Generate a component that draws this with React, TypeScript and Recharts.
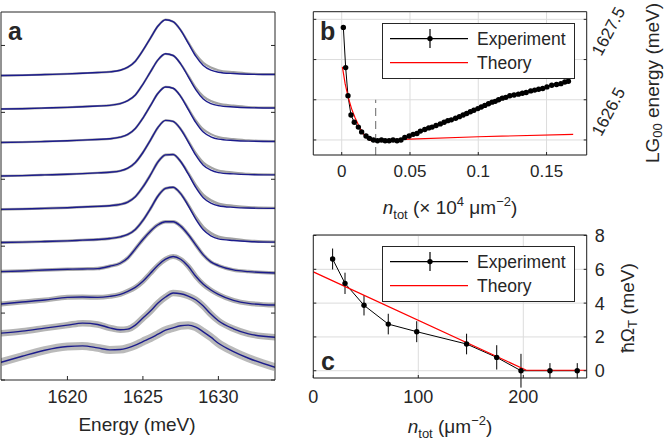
import React from "react";
import {
  ComposedChart,
  Line,
  XAxis,
  YAxis,
  CartesianGrid,
  ReferenceLine,
  ErrorBar,
  Legend,
} from "recharts";

const FONT = "'Liberation Sans', Arial, Helvetica, sans-serif";
const INK = "#262626";
const W = 667;
const H = 442;

// ---------- panel a: stacked PL spectra (fits), arbitrary units ----------
const energyGrid = [
  1615.6, 1617, 1618.5, 1620, 1621, 1622, 1622.8, 1623.5, 1624, 1624.5, 1625, 1625.5, 1626, 1626.5, 1627,
  1627.5, 1628, 1628.5, 1629, 1629.5, 1630, 1631, 1632, 1633.75,
];
const energyTicks = [1620, 1625, 1630];
const spectrumOffsets = [9.1, 8.1, 7.1, 6.1, 5.1, 4.1, 3.2, 2.2, 1.25, 0.35];

const fit1 = [0, 0.01, 0.03, 0.05, 0.07, 0.09, 0.11, 0.16, 0.25, 0.43, 0.75, 1.12, 1.48, 1.67, 1.61, 1.36, 0.97, 0.58, 0.3, 0.16, 0.1, 0.06, 0.04, 0.03];
const fit2 = [0, 0.01, 0.03, 0.05, 0.07, 0.09, 0.11, 0.16, 0.25, 0.42, 0.74, 1.11, 1.47, 1.65, 1.6, 1.35, 0.97, 0.58, 0.3, 0.16, 0.1, 0.06, 0.04, 0.03];
const fit3 = [0, 0.01, 0.03, 0.05, 0.07, 0.09, 0.11, 0.16, 0.24, 0.42, 0.73, 1.1, 1.47, 1.66, 1.62, 1.38, 0.99, 0.6, 0.31, 0.17, 0.1, 0.06, 0.04, 0.03];
const fit4 = [0, 0.01, 0.03, 0.05, 0.07, 0.09, 0.11, 0.15, 0.23, 0.4, 0.7, 1.07, 1.45, 1.66, 1.63, 1.4, 1.02, 0.62, 0.32, 0.17, 0.1, 0.06, 0.04, 0.03];
const fit5 = [0, 0.01, 0.03, 0.05, 0.07, 0.09, 0.11, 0.15, 0.22, 0.38, 0.67, 1.03, 1.42, 1.63, 1.64, 1.43, 1.06, 0.66, 0.35, 0.19, 0.11, 0.06, 0.04, 0.03];
const fit6 = [0.01, 0.02, 0.04, 0.06, 0.08, 0.1, 0.13, 0.18, 0.25, 0.4, 0.67, 1.02, 1.4, 1.63, 1.66, 1.47, 1.11, 0.71, 0.39, 0.21, 0.12, 0.07, 0.04, 0.02];
const fit7 = [0.04, 0.06, 0.09, 0.11, 0.12, 0.13, 0.2, 0.29, 0.45, 0.72, 1.0, 1.25, 1.44, 1.53, 1.53, 1.4, 1.15, 0.84, 0.54, 0.33, 0.22, 0.09, 0.04, 0.0];
const fit8 = [0.07, 0.13, 0.19, 0.27, 0.28, 0.27, 0.3, 0.36, 0.45, 0.57, 0.75, 0.99, 1.23, 1.41, 1.49, 1.41, 1.2, 0.9, 0.66, 0.49, 0.36, 0.18, 0.09, 0.04];
const fit9 = [0.15, 0.21, 0.3, 0.39, 0.45, 0.41, 0.31, 0.25, 0.27, 0.39, 0.6, 0.81, 1.05, 1.23, 1.35, 1.33, 1.26, 1.15, 0.96, 0.72, 0.52, 0.28, 0.13, 0.03];
const fit10 = [0.18, 0.36, 0.54, 0.65, 0.67, 0.61, 0.55, 0.56, 0.61, 0.69, 0.8, 0.9, 1.02, 1.14, 1.21, 1.27, 1.29, 1.23, 1.09, 0.93, 0.75, 0.5, 0.3, 0.03];
const fits = [fit1, fit2, fit3, fit4, fit5, fit6, fit7, fit8, fit9, fit10];
// measured data sits a little above the fit on the high-energy flank of the upper spectra
const dataShoulder = [0, 0, 0, 0, 0, 0, 0, 0, 0, 0, 0, 0, 0, 0, 0, 0, 0.03, 0.06, 0.08, 0.08, 0.06, 0.04, 0.02, 0.01];
const shoulderSpectra = 6;

// ---------- panel b: LG00 energy vs density ----------
const bDensity = [
  0.0012, 0.0029, 0.0046, 0.0068, 0.0092, 0.0122, 0.0146, 0.0178, 0.0203, 0.0232, 0.0262, 0.0291, 0.0318, 0.0347,
  0.0376, 0.0405, 0.0434, 0.0462, 0.0494, 0.0523, 0.0551, 0.0576, 0.0608, 0.0637, 0.0662, 0.0691, 0.0722, 0.075,
  0.0777, 0.0803, 0.0834, 0.0862, 0.0889, 0.0915, 0.0942, 0.0968, 0.0997, 0.1022, 0.1048, 0.1075, 0.1101, 0.1124,
  0.1149, 0.1176, 0.1202, 0.1231, 0.1262, 0.1294, 0.1323, 0.1351, 0.1384, 0.1413, 0.1442, 0.1472, 0.1503, 0.1538,
  0.1573, 0.1605, 0.1634, 0.166,
];
const bEnergy = [
  1627.4, 1626.9, 1626.55, 1626.31, 1626.22, 1626.16, 1626.1, 1626.05, 1626.02, 1626.0, 1625.99, 1626.0, 1625.99,
  1625.99, 1626.0, 1625.99, 1626.0, 1626.03, 1626.05, 1626.07, 1626.08, 1626.11, 1626.13, 1626.15, 1626.16, 1626.18,
  1626.2, 1626.22, 1626.24, 1626.25, 1626.27, 1626.29, 1626.31, 1626.33, 1626.35, 1626.37, 1626.39, 1626.41, 1626.43,
  1626.45, 1626.47, 1626.48, 1626.5, 1626.52, 1626.53, 1626.55, 1626.56, 1626.57, 1626.58, 1626.59, 1626.61, 1626.62,
  1626.63, 1626.64, 1626.66, 1626.68, 1626.69, 1626.7, 1626.72, 1626.73,
];
const bTheoryDensity = [0.0005, 0.0025, 0.0048, 0.0072, 0.0097, 0.0122, 0.0146, 0.017, 0.0195, 0.0215, 0.05, 0.1, 0.1695];
const bTheoryEnergy = [1626.91, 1626.7, 1626.53, 1626.39, 1626.28, 1626.19, 1626.11, 1626.05, 1626.01, 1625.995, 1626.01, 1626.04, 1626.07];
const bDensityTicks = [0, 0.05, 0.1, 0.15];
const bEnergyTicks = [1626, 1626.5, 1627, 1627.5];
const bEnergyLabels = [1626.5, 1627.5];
const condensationDensity = 0.0249;

// ---------- panel c: gap vs density ----------
const cDensity = [18.4, 30.2, 48.3, 71.4, 98.5, 146, 174.7, 197.8, 225.4, 251.4];
const cGap = [6.61, 5.17, 3.87, 2.76, 2.31, 1.58, 0.79, 0.0, 0.0, 0.0];
const cGapErr = [0.62, 0.63, 0.6, 0.61, 0.62, 0.61, 0.72, 1.0, 0.45, 0.45];
const cTheoryDensity = [0, 203, 260.4];
const cTheoryGap = [5.85, 0.03, 0.03];
const cDensityTicks = [0, 100, 200];
const cGapTicks = [0, 2, 4, 6, 8];

// ---------- layout ----------
// plot frames in page pixels; axes are 1px thick boxes so the margins are trimmed by 1
type Box = { left: number; top: number; right: number; bottom: number };
const boxA: Box = { left: 1, top: 12, right: 275, bottom: 380 };
const boxB: Box = { left: 313.3, top: 11.7, right: 586.7, bottom: 155 };
const boxC: Box = { left: 313.3, top: 235, right: 586.7, bottom: 378 };
const marginOf = (b: Box) => ({ left: b.left - 1, top: b.top - 1, right: W - b.right - 1, bottom: H - b.bottom - 1 });

const noiseWidths = [2.2, 2.2, 2.2, 2.4, 2.6, 2.8, 3.5, 5, 6.5, 8];
const noiseOpacity = [0.8, 0.8, 0.8, 0.8, 0.8, 0.8, 0.75, 0.7, 0.65, 0.6];

const fitRows = fits.map((fit, i) => energyGrid.map((e, j) => ({ e, y: spectrumOffsets[i] + fit[j] })));
const dataRows = fits.map((fit, i) =>
  energyGrid.map((e, j) => ({ e, y: spectrumOffsets[i] + fit[j] + (i < shoulderSpectra ? dataShoulder[j] : 0) }))
);
const bRows = bDensity.map((n, i) => ({ n, E: bEnergy[i] }));
const bTheoryRows = bTheoryDensity.map((n, i) => ({ n, E: bTheoryEnergy[i] }));
const cRows = cDensity.map((n, i) => ({ n, w: cGap[i], err: cGapErr[i] }));
const cTheoryRows = cTheoryDensity.map((n, i) => ({ n, w: cTheoryGap[i] }));

const noTick = () => <g />;
const axisLine = { stroke: INK, strokeWidth: 1 };
const tickLine = { stroke: INK, strokeWidth: 1 };
const tickText = (size: number) => ({ fontSize: size, fill: INK, fontFamily: FONT });

function EnergyTick(props: any) {
  const { x, y, payload } = props;
  if (!bEnergyLabels.includes(payload.value)) return <g />;
  return (
    <text
      transform={`translate(${x + 22},${y + 12}) rotate(-62)`}
      textAnchor="middle"
      dominantBaseline="central"
      fontSize={17}
      fill={INK}
      fontFamily={FONT}
    >
      {payload.value}
    </text>
  );
}

function LegendBox(props: any) {
  const items = (props.payload ?? []) as Array<{ value: string; color: string }>;
  return (
    <svg width={193} height={56} style={{ display: "block" }}>
      <rect x={0.5} y={0.5} width={192} height={55} fill="#fff" stroke={INK} />
      {items.map((it, i) => {
        const cy = 15.6 + i * 24;
        return (
          <g key={it.value}>
            <line x1={8} x2={86} y1={cy} y2={cy} stroke={it.color} strokeWidth={1.2} />
            {it.value === "Experiment" && (
              <>
                <line x1={48} x2={48} y1={cy - 9.5} y2={cy + 9.5} stroke={it.color} strokeWidth={1.2} />
                <circle cx={48} cy={cy} r={2.7} fill={it.color} />
              </>
            )}
            <text x={95} y={cy} dominantBaseline="central" fontSize={17.5} fontFamily={FONT} fill={INK}>
              {it.value}
            </text>
          </g>
        );
      })}
    </svg>
  );
}

function PanelA() {
  const dom: [number, number] = [1615.6, 1633.75];
  return (
    <ComposedChart width={W} height={H} margin={marginOf(boxA)}>
      <XAxis xAxisId="x" dataKey="e" type="number" domain={dom} ticks={energyTicks} allowDataOverflow height={1}
        tickSize={-4} tickMargin={14} tick={tickText(18)} axisLine={axisLine} tickLine={tickLine} />
      <XAxis xAxisId="xt" orientation="top" type="number" domain={dom} ticks={energyTicks} allowDataOverflow height={1}
        tickSize={-4} tick={noTick} axisLine={axisLine} tickLine={tickLine} />
      <YAxis yAxisId="y" type="number" domain={[0, 11]} ticks={[0, 2, 4, 6, 8, 10]} allowDataOverflow width={1}
        tickSize={-4} tick={noTick} axisLine={axisLine} tickLine={tickLine} />
      <YAxis yAxisId="yr" orientation="right" type="number" domain={[0, 11]} ticks={[0, 2, 4, 6, 8, 10]} allowDataOverflow
        width={1} tickSize={-4} tick={noTick} axisLine={axisLine} tickLine={tickLine} />
      {dataRows.map((rows, i) => (
        <Line key={`d${i}`} data={rows} dataKey="y" xAxisId="x" yAxisId="y" type="monotone" stroke="#8c8c8c"
          strokeWidth={noiseWidths[i]} strokeOpacity={noiseOpacity[i]} dot={false} activeDot={false} isAnimationActive={false} />
      ))}
      {fitRows.map((rows, i) => (
        <Line key={`f${i}`} data={rows} dataKey="y" xAxisId="x" yAxisId="y" type="monotone" stroke="#1c1c8c"
          strokeWidth={1.4} dot={false} activeDot={false} isAnimationActive={false} />
      ))}
    </ComposedChart>
  );
}

function PanelB() {
  const dom: [number, number] = [-0.0208, 0.1794];
  const edom: [number, number] = [1625.813, 1627.595];
  return (
    <ComposedChart width={W} height={H} margin={marginOf(boxB)}>
      <CartesianGrid xAxisId="x" yAxisId="y" stroke="#dcdcdc" />
      <XAxis xAxisId="x" dataKey="n" type="number" domain={dom} ticks={bDensityTicks} allowDataOverflow height={1}
        tickSize={-3} tickMargin={13} tick={tickText(17)} axisLine={axisLine} tickLine={tickLine} />
      <XAxis xAxisId="xt" orientation="top" type="number" domain={dom} ticks={bDensityTicks} allowDataOverflow height={1}
        tickSize={-3} tick={noTick} axisLine={axisLine} tickLine={tickLine} />
      <YAxis yAxisId="yl" type="number" domain={edom} ticks={bEnergyTicks} allowDataOverflow width={1}
        tickSize={-3} tick={noTick} axisLine={axisLine} tickLine={tickLine} />
      <YAxis yAxisId="y" orientation="right" type="number" domain={edom} ticks={bEnergyTicks} allowDataOverflow width={1}
        tickSize={-3} tickMargin={3} tick={EnergyTick} axisLine={axisLine} tickLine={tickLine} />
      <ReferenceLine xAxisId="x" yAxisId="y" stroke="#666" strokeWidth={1} strokeDasharray="8 5"
        segment={[{ x: condensationDensity, y: edom[0] }, { x: condensationDensity, y: 1626.5 }]} />
      <Line name="Experiment" data={bRows} dataKey="E" xAxisId="x" yAxisId="y" type="linear" stroke="#000"
        strokeWidth={1} dot={{ r: 2.7, fill: "#000", stroke: "none" }} activeDot={false} isAnimationActive={false} />
      <Line name="Theory" data={bTheoryRows} dataKey="E" xAxisId="x" yAxisId="y" type="linear" stroke="#ff0000"
        strokeWidth={1.2} dot={false} activeDot={false} isAnimationActive={false} />
      <Legend content={LegendBox} layout="horizontal" verticalAlign="middle" align="center"
        wrapperStyle={{ left: 382, top: 22.7, width: 193, height: 56, margin: 0 }} />
    </ComposedChart>
  );
}

function PanelC() {
  const dom: [number, number] = [0, 260.4];
  const wdom: [number, number] = [-0.43, 8.03];
  return (
    <ComposedChart width={W} height={H} margin={marginOf(boxC)}>
      <CartesianGrid xAxisId="x" yAxisId="y" stroke="#dcdcdc" />
      <XAxis xAxisId="x" dataKey="n" type="number" domain={dom} ticks={cDensityTicks} allowDataOverflow height={1}
        tickSize={-3} tickMargin={15} tick={tickText(18)} axisLine={axisLine} tickLine={tickLine} />
      <XAxis xAxisId="xt" orientation="top" type="number" domain={dom} ticks={cDensityTicks} allowDataOverflow height={1}
        tickSize={-3} tick={noTick} axisLine={axisLine} tickLine={tickLine} />
      <YAxis yAxisId="yl" type="number" domain={wdom} ticks={cGapTicks} allowDataOverflow width={1}
        tickSize={-3} tick={noTick} axisLine={axisLine} tickLine={tickLine} />
      <YAxis yAxisId="y" orientation="right" type="number" domain={wdom} ticks={cGapTicks} allowDataOverflow width={1}
        tickSize={-3} tickMargin={11} tick={tickText(18)} axisLine={axisLine} tickLine={tickLine} />
      <Line name="Experiment" data={cRows} dataKey="w" xAxisId="x" yAxisId="y" type="linear" stroke="#000"
        strokeWidth={1} dot={{ r: 2.7, fill: "#000", stroke: "none" }} activeDot={false} isAnimationActive={false}>
        <ErrorBar dataKey="err" direction="y" width={0} stroke="#000" strokeWidth={1} />
      </Line>
      <Line name="Theory" data={cTheoryRows} dataKey="w" xAxisId="x" yAxisId="y" type="linear" stroke="#ff0000"
        strokeWidth={1.2} dot={false} activeDot={false} isAnimationActive={false} />
      <Legend content={LegendBox} layout="horizontal" verticalAlign="middle" align="center"
        wrapperStyle={{ left: 381.7, top: 246, width: 193, height: 56, margin: 0 }} />
    </ComposedChart>
  );
}

function Labels() {
  const sub = 13;
  return (
    <svg width={W} height={H} style={{ position: "absolute", left: 0, top: 0, pointerEvents: "none" }}
      fontFamily={FONT} fill={INK}>
      <text x={8} y={40} fontSize={25} fontWeight="bold">a</text>
      <text x={320} y={40} fontSize={25} fontWeight="bold">b</text>
      <text x={321} y={370} fontSize={25} fontWeight="bold">c</text>
      <text x={137} y={431} fontSize={19} textAnchor="middle">Energy (meV)</text>
      <text x={450} y={213.5} fontSize={19} textAnchor="middle">
        <tspan fontStyle="italic">n</tspan>
        <tspan fontSize={sub} dy={5}>tot</tspan>
        <tspan dy={-5}> (× 10</tspan>
        <tspan fontSize={sub} dy={-8}>4</tspan>
        <tspan dy={8}> μm</tspan>
        <tspan fontSize={sub} dy={-8}>−2</tspan>
        <tspan dy={8}>)</tspan>
      </text>
      <text x={450} y={432.5} fontSize={19} textAnchor="middle">
        <tspan fontStyle="italic">n</tspan>
        <tspan fontSize={sub} dy={5}>tot</tspan>
        <tspan dy={-5}> (μm</tspan>
        <tspan fontSize={sub} dy={-8}>−2</tspan>
        <tspan dy={8}>)</tspan>
      </text>
      <text transform="translate(652,83) rotate(-90)" fontSize={19} textAnchor="middle" dominantBaseline="central">
        LG<tspan fontSize={sub} dy={5}>00</tspan>
        <tspan dy={-5}> energy (meV)</tspan>
      </text>
      <text transform="translate(627,308) rotate(-90)" fontSize={19} textAnchor="middle" dominantBaseline="central">
        ħΩ<tspan fontSize={sub} dy={5}>T</tspan>
        <tspan dy={-5}> (meV)</tspan>
      </text>
    </svg>
  );
}

export default function App() {
  const layer: React.CSSProperties = { position: "absolute", left: 0, top: 0 };
  return (
    <div style={{ position: "absolute", left: 0, top: 0, width: W, height: H, background: "#fff", overflow: "hidden", fontFamily: FONT }}>
      <div style={layer}><PanelA /></div>
      <div style={layer}><PanelB /></div>
      <div style={layer}><PanelC /></div>
      <Labels />
    </div>
  );
}
